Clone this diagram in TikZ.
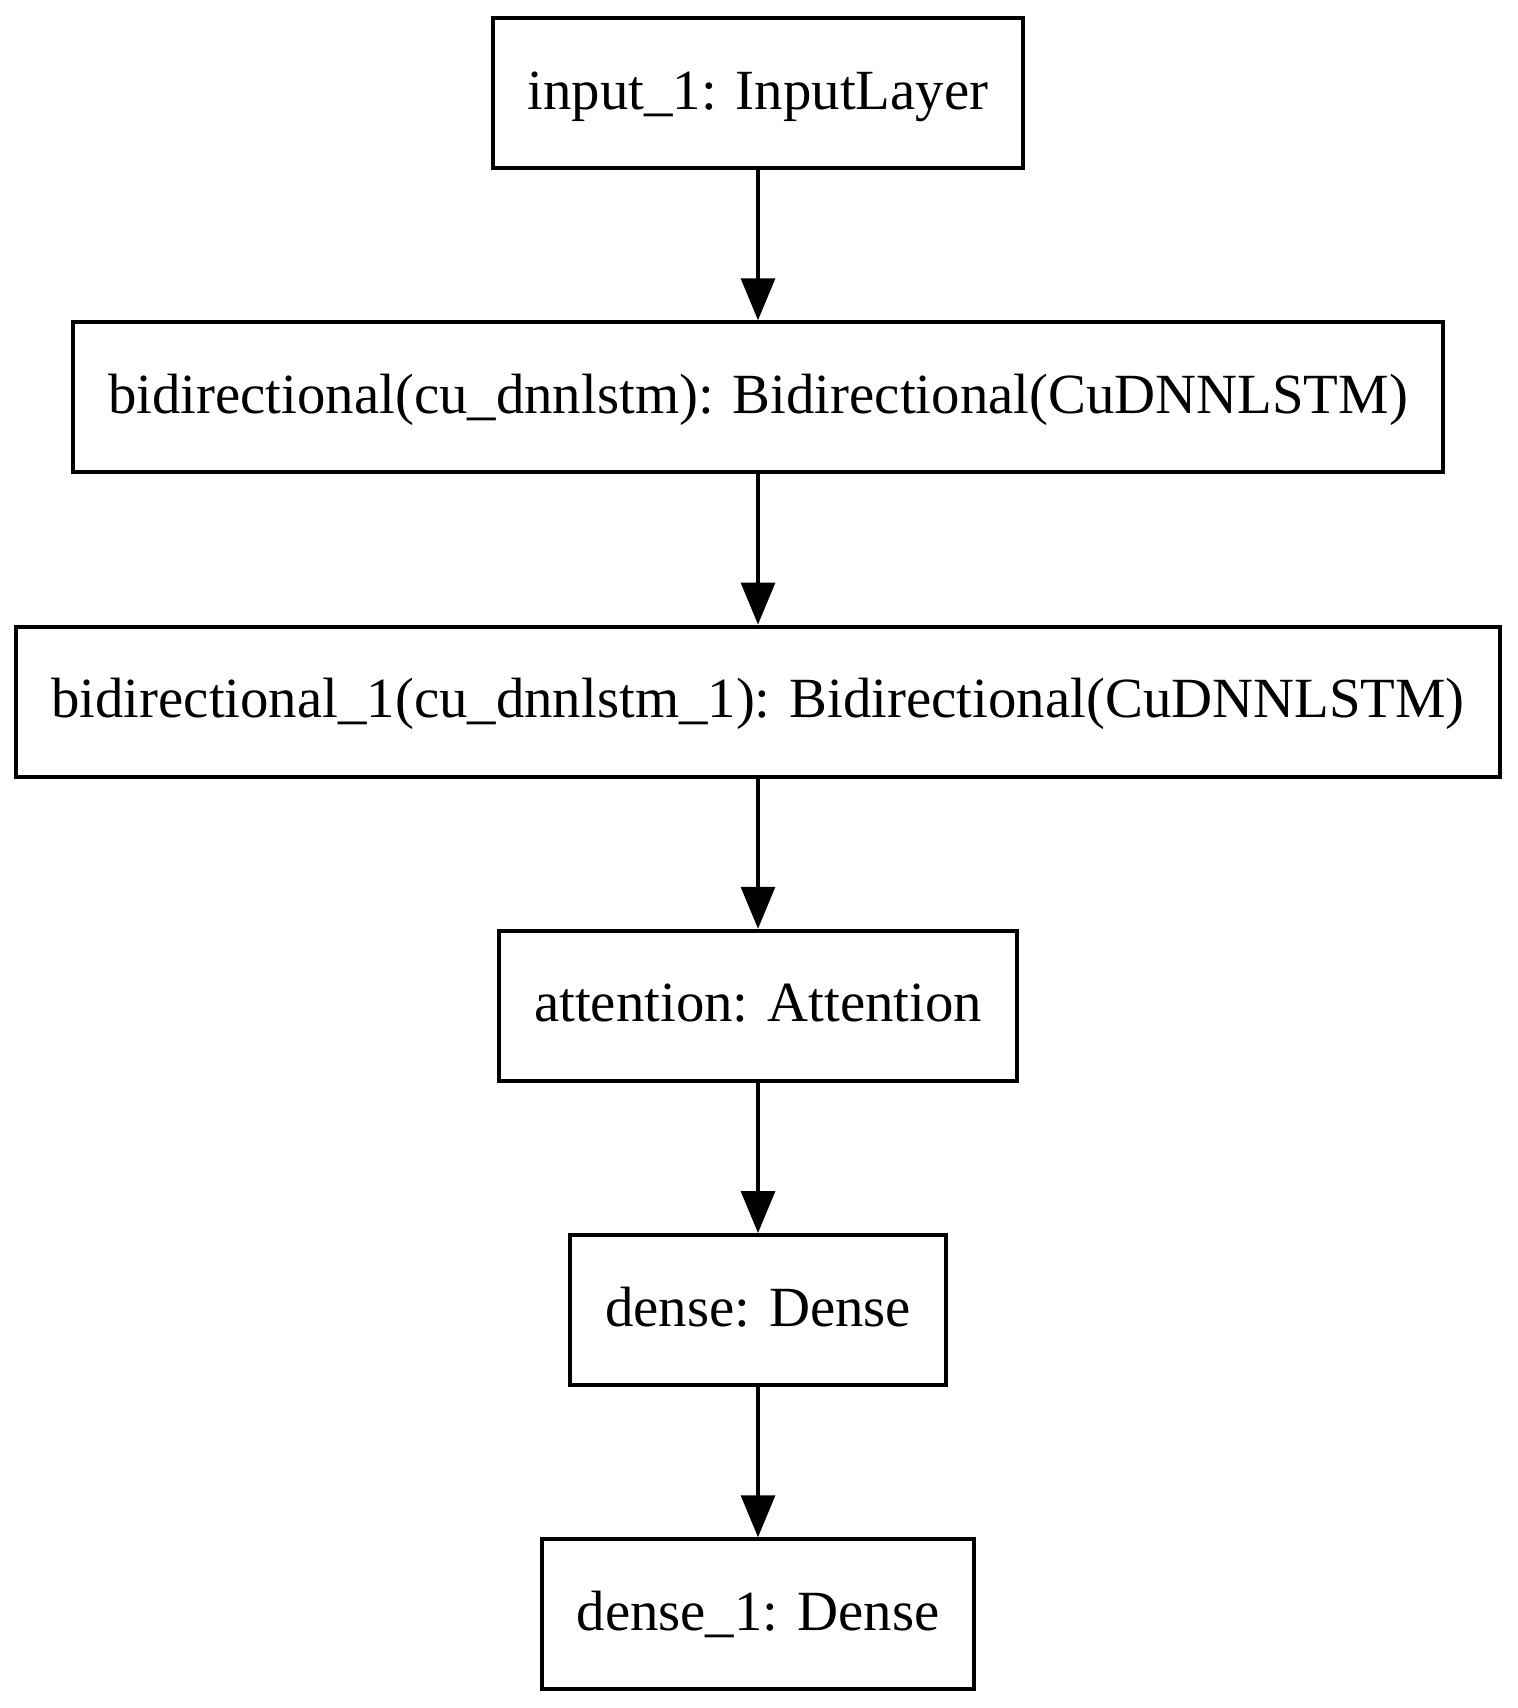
\documentclass[tikz,border=0pt]{standalone}
\usepackage{fontspec}
\setmainfont{Liberation Serif}
\usepackage{tikz}
\usetikzlibrary{arrows.meta}

\tikzset{
    layer/.style={draw, line width=2pt, minimum height=75pt, inner xsep=17.5pt,
        text height=19pt, text depth=3pt,
        font=\fontsize{28.4}{34}\selectfont},
    flow/.style={line width=1.7pt, -{Triangle[length=21pt, width=17pt]}}
}

\begin{document}
\begin{tikzpicture}[x=0.5pt, y=-0.5pt]
    \useasboundingbox (0,0) rectangle (1517,1708);
    \node[layer] (in) at (758,93) {input\_1: InputLayer};
    \node[layer] (bi) at (758,397.25) {bidirectional(cu\_dnnlstm): Bidirectional(CuDNNLSTM)};
    \node[layer] (bione) at (758,701.5) {bidirectional\_1(cu\_dnnlstm\_1): Bidirectional(CuDNNLSTM)};
    \node[layer] (att) at (758,1005.75) {attention: Attention};
    \node[layer] (den) at (758,1310) {dense: Dense};
    \node[layer] (denone) at (758,1614.25) {dense\_1: Dense};
    \draw[flow] (in)--(bi);
    \draw[flow] (bi)--(bione);
    \draw[flow] (bione)--(att);
    \draw[flow] (att)--(den);
    \draw[flow] (den)--(denone);
\end{tikzpicture}
\end{document}
